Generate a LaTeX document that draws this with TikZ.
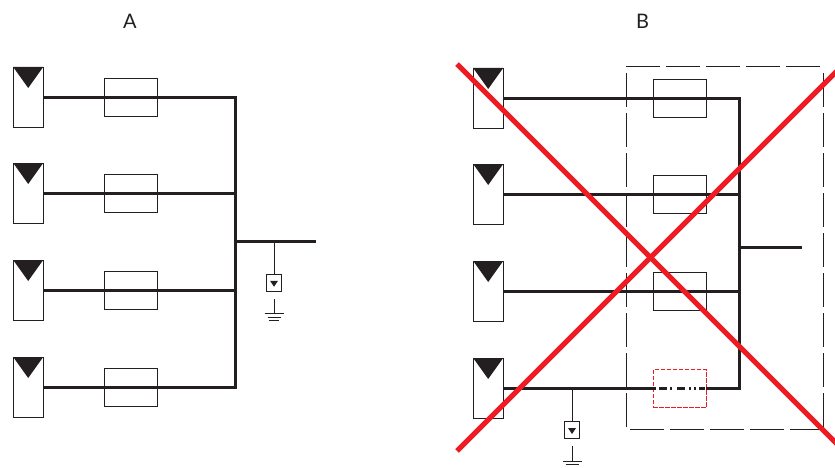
\documentclass[tikz,border=0pt]{standalone}
\usepackage{fontspec}
\setmainfont{Lato}
\usetikzlibrary{calc}
\definecolor{ink}{HTML}{231F20}
\definecolor{redx}{HTML}{ED1C24}
\tikzset{
  x=1pt,y=-1pt,
  pvbox/.style={draw=ink,line width=0.9pt,fill=white,minimum width=30pt,minimum height=60pt,inner sep=0pt,outer sep=0pt},
  fusebox/.style={draw=ink,line width=0.8pt,minimum width=53pt,minimum height=38pt,inner sep=0pt,outer sep=0pt},
  redbox/.style={draw=redx,line width=1pt,dash pattern=on 4.5pt off 1.5pt,minimum width=53pt,minimum height=38pt,inner sep=0pt,outer sep=0pt},
  gfdibox/.style={draw=ink,line width=0.9pt,minimum width=14.5pt,minimum height=17.5pt,inner sep=0pt,outer sep=0pt},
  bus/.style={draw=ink,line width=3bp},
  thin line/.style={draw=ink,line width=0.9pt},
  frame/.style={draw=ink,line width=0.8pt,dash pattern=on 34pt off 6pt},
  cross/.style={draw=redx,line width=5pt},
  lab/.style={font=\fontsize{20}{22}\selectfont\color{ink},inner sep=0pt}
}
\newcommand{\pvcell}[3]{% name, x centre, y centre
  \node[pvbox] (#1) at (#2,#3) {};
  \fill[ink] (#1.north west) -- (#1.north east) -- ($(#1.north)+(0,21)$) -- cycle;
}
\newcommand{\gfdi}[3]{% name, x, box centre y
  \node[gfdibox] (#1) at (#2,#3) {};
  \coordinate (#1s) at (#2,#3+4);
  \fill[ink] ($(#1s)+(-4,-6)$) -- ($(#1s)+(4,-6)$) -- (#1s) -- cycle;
  \coordinate (#1t) at (#2,#3+31);
  \draw[thin line] (#1t) -- +(0,-15);
  \draw[ink,line width=0.9pt] ($(#1t)+(-9.5,0)$) -- +(19,0);
  \draw[ink,line width=0.9pt] ($(#1t)+(-6.5,3.5)$) -- +(13,0);
  \draw[ink,line width=0.9pt] ($(#1t)+(-5,7)$) -- +(10,0);
}
\begin{document}
\begin{tikzpicture}
\useasboundingbox (0,0) rectangle (835,468);
\node[lab] (la) at (130,21) {A};
\node[lab] (lb) at (642.5,21) {B};
% Panel A
\foreach \n/\y in {1/97.5,2/193.5,3/290.5,4/387.5}{
  \pvcell{pa\n}{28.2}{\y-0.5}
  \node[fusebox] (fa\n) at (130.8,\y) {};
  \coordinate (ja\n) at (235.5,\y);
  \draw[bus] (pa\n.east |- ja\n) -- (ja\n);
}
\draw[bus,line cap=rect] (ja1) -- (ja4);
\coordinate (jam) at (235.5,241.5);
\coordinate (aout) at (316,241.5);
\draw[bus] (jam) -- (aout);
\gfdi{ga}{274}{282.75}
\coordinate (gat) at (274,241.5);
\draw[thin line] (gat) -- (ga.north);
% Panel B
\foreach \n/\y in {1/98.5,2/194.5,3/291.5,4/388.5}{
  \pvcell{pb\n}{488.2}{\y-0.5}
  \coordinate (jb\n) at (739.5,\y);
}
\foreach \n/\y in {1/98.5,2/194.5,3/291.5}{
  \node[fusebox] (fb\n) at (679.5,\y) {};
  \draw[bus] (pb\n.east |- jb\n) -- (jb\n);
}
\node[redbox] (fb4) at (679.7,388.5) {};
\draw[bus] (pb4.east |- jb4) -- (fb4.west);
\draw[bus] (fb4.east) -- (jb4);
\draw[ink,line width=3bp,dash pattern=on 3pt off 3pt on 8pt off 3pt on 2pt off 5pt on 8pt off 4pt on 2pt off 3pt on 2pt off 3pt on 6pt off 3pt] (fb4.west) -- (fb4.east);
\draw[bus,line cap=rect] (jb1) -- (jb4);
\coordinate (jbm) at (739.5,247.5);
\coordinate (bout) at (802,247.5);
\draw[bus] (jbm) -- (bout);
\gfdi{gb}{572}{430}
\coordinate (gbt) at (572,388.5);
\draw[thin line] (gbt) -- (gb.north);
% dashed frame
\coordinate (ftl) at (626,66.5);
\coordinate (ftr) at (823.5,66.5);
\coordinate (fbl) at (626,429);
\coordinate (fbr) at (823.5,429);
\draw[frame] (ftl) -- (ftr);
\draw[frame] ($(fbl)+(4,0)$) -- (fbr);
\draw[frame] ($(ftl)+(0,6.5)$) -- ($(fbl)+(0,-1)$);
\draw[frame] ($(ftr)+(0,6.5)$) -- ($(fbr)+(0,-1)$);
% red cross
\coordinate (c1) at (457,64);
\coordinate (c2) at (838,445);
\coordinate (c3) at (457,451);
\coordinate (c4) at (838,70);
\draw[cross] (c1) -- (c2);
\draw[cross] (c3) -- (c4);
\end{tikzpicture}
\end{document}
